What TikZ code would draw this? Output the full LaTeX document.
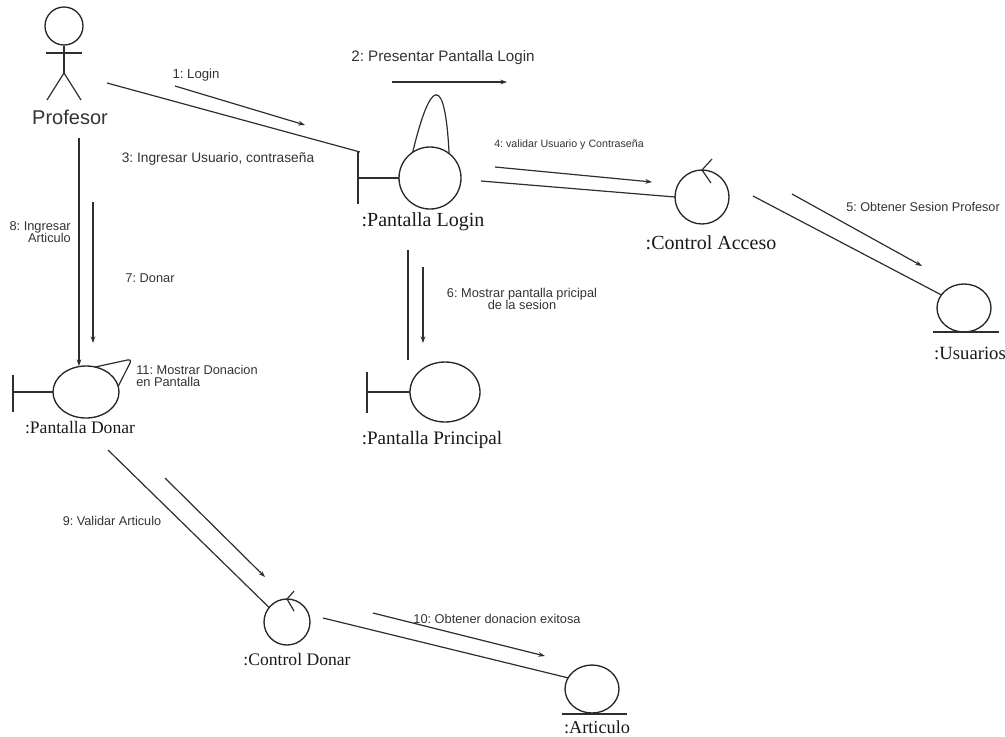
\documentclass[tikz,border=0pt]{standalone}
\usepackage{fontspec}
\setmainfont{Liberation Serif}
\setsansfont{Liberation Sans}
\usetikzlibrary{arrows.meta,shapes.geometric,calc}
\frenchspacing
\begin{document}
\begin{tikzpicture}[x=0.75pt,y=-0.75pt,
  ln/.style={draw=black!82, line width=0.9pt},
  msgarrow/.style={ln,-{Stealth[length=5pt,width=3.5pt]}},
  obj/.style={ellipse, draw=black!85, line width=1pt, inner sep=0pt, outer sep=0pt},
  objname/.style={font=\rmfamily\fontsize{#1}{#1}\selectfont, text=black!90, inner sep=0pt},
  msg/.style={font=\sffamily\fontsize{#1}{#1}\selectfont, text=black!80, inner sep=0pt},
]
\useasboundingbox (0,0) rectangle (1005,736);

% ---- actor Profesor ----
\node[circle, draw=black!85, line width=1pt, minimum size=28.5pt, inner sep=0pt] (head) at (64,26) {};
\coordinate (hip) at (64,73);
\draw[ln] (head.south) -- (hip);
\draw[ln] (46,53) -- (82,53);
\draw[ln] (hip) -- (47,100);
\draw[ln] (hip) -- (81,100);
\node[msg=15] (profesor) at (70,117) {Profesor};
\coordinate (profR) at (107,83);
\coordinate (profB) at (79,138);

% ---- :Pantalla Login (boundary) ----
\node[obj, minimum width=46.5pt, minimum height=46.5pt] (login) at (430,178) {};
\coordinate (loginbar) at (358,178);
\coordinate (loginbarT) at (360,152);
\draw[ln] (loginbar) -- (login.west);
\draw[ln] (358,152) -- (358,204);
\node[objname=15] (loginlbl) at (423,222) {:Pantalla Login};

% ---- :Control Acceso (control) ----
\node[obj, minimum width=40.5pt, minimum height=40.5pt] (acceso) at (702,197) {};
\draw[ln] (712,159) -- (acceso.north) -- (711,183);
\node[objname=15] (accesolbl) at (711,243) {:Control Acceso};

% ---- :Usuarios (entity) ----
\node[obj, minimum width=40.5pt, minimum height=36pt] (usuarios) at (964,308) {};
\draw[ln] (933,332) -- (999,332);
\node[objname=14] (usuarioslbl) at (970,353) {:Usuarios};

% ---- :Pantalla Principal (boundary) ----
\node[obj, minimum width=52.5pt, minimum height=45pt] (principal) at (445,392) {};
\draw[ln] (367,392) -- (principal.west);
\draw[ln] (367,372) -- (367,413);
\node[objname=14.3] (principallbl) at (432,440) {:Pantalla Principal};

% ---- :Pantalla Donar (boundary) ----
\node[obj, minimum width=49.5pt, minimum height=39pt] (donar) at (86,392) {};
\draw[ln] (13,392) -- (donar.west);
\draw[ln] (13,375) -- (13,412);
\node[objname=13.2] (donarlbl) at (80,428) {:Pantalla Donar};

% ---- :Control Donar (control) ----
\node[obj, minimum width=34.5pt, minimum height=34.5pt] (cdonar) at (287,622) {};
\draw[ln] (294,591) -- (cdonar.north) -- (294,611);
\node[objname=13.2] (cdonarlbl) at (297,660) {:Control Donar};

% ---- :Articulo (entity) ----
\node[obj, minimum width=40.5pt, minimum height=36pt] (articulo) at (592,689) {};
\draw[ln] (562,714) -- (627,714);
\node[objname=13.7] (articulolbl) at (597,727) {:Articulo};

% ---- links ----
\draw[ln] (profR) -- (loginbarT);
\draw[ln] ($(login.east)+(20,3)$) -- (acceso.west);
\draw[ln] ($(acceso.east)+(24,-1)$) -- (usuarios.150);
\draw[ln] (408,250) coordinate (loginB) -- (408,360) coordinate (principalT);
\draw[ln,-{Stealth[length=5pt,width=3.5pt]}] (profB) -- (donar.north -| profB);
\draw[ln] (108,450) coordinate (donarB) -- (cdonar.141);
\draw[ln] ($(cdonar.east)+(13,-4)$) -- (articulo.155);

% self links
\draw[ln] (login.124) .. controls +(18,-75) and +(-4,-80) .. (login.52);
\draw[ln, rounded corners=3pt] (donar.70) -- (132,359) -- (donar.10);

% ---- messages ----
\draw[msgarrow] (175,86) coordinate (m1s) -- (305,125) coordinate (m1e);
\node[msg=9.9] (t1) at (196,75) {1: Login};

\draw[msgarrow] (392,82) coordinate (m2s) -- (507,82) coordinate (m2e);
\node[msg=11.4] (t2) at (443,58) {2: Presentar Pantalla Login};

\node[msg=10.3] (t3) at (218,159) {3: Ingresar Usuario, contraseña};

\draw[msgarrow] (495,167) coordinate (m4s) -- (652,182) coordinate (m4e);
\node[msg=8] (t4) at (569,145) {4: validar Usuario y Contraseña};

\draw[msgarrow] (792,194) coordinate (m5s) -- (922,266) coordinate (m5e);
\node[msg=9.5] (t5) at (923,207) {5: Obtener Sesion Profesor};

\draw[msgarrow] (423,267) coordinate (m6s) -- (423,343) coordinate (m6e);
\node[msg=9.6, align=center] (t6) at (522,299) {6: Mostrar pantalla pricipal\\de la sesion};

\draw[msgarrow] (93,202) coordinate (m7s) -- (93,343) coordinate (m7e);
\node[msg=9.6] (t7) at (150,278) {7: Donar};

\node[msg=9.6, align=right, anchor=east] (t8) at (71,232) {8: Ingresar\\Articulo};

\draw[msgarrow] (165,478) coordinate (m9s) -- (265,577) coordinate (m9e);
\node[msg=9.5] (t9) at (112,521) {9: Validar Articulo};

\draw[msgarrow] (373,613) coordinate (m10s) -- (545,656) coordinate (m10e);
\node[msg=9.6] (t10) at (497,619) {10: Obtener donacion exitosa};

\node[msg=9.6, align=left, anchor=west] (t11) at (136,376) {11: Mostrar Donacion\\en Pantalla};
\end{tikzpicture}
\end{document}
